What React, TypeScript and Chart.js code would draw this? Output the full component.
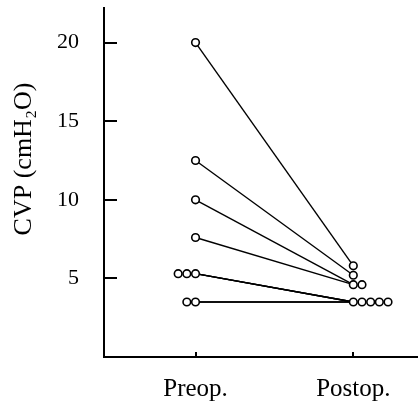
import React, { useEffect, useRef } from 'react';
import { Chart, registerables } from 'chart.js';

Chart.register(...registerables);

const categories = ['Preop.', 'Postop.'];
const preValues = [20, 12.5, 10, 7.6, 5.3, 5.3, 5.3, 3.5, 3.5];
const postValues = [5.8, 5.2, 4.6, 4.6, 3.5, 3.5, 3.5, 3.5, 3.5];
const yTicks = [5, 10, 15, 20];
const yTitle = 'CVP (cmH\u2082O)';

const FONT = "'Liberation Serif', 'DejaVu Serif', serif";
const STEP = 0.055;

function spread(values: number[], dir: number): number[] {
  const seen = new Map<number, number>();
  return values.map((v) => {
    const n = seen.get(v) || 0;
    seen.set(v, n + 1);
    return n * dir * STEP;
  });
}

const decorPlugin = {
  id: 'decor',
  afterDraw(chart: any) {
    const ctx = chart.ctx;
    const { left, bottom, top } = chart.chartArea;
    const ys = chart.scales.y;
    const xs = chart.scales.x;
    ctx.save();
    ctx.strokeStyle = '#000';
    ctx.lineWidth = 2;
    yTicks.forEach((v) => {
      const py = Math.round(ys.getPixelForValue(v));
      ctx.beginPath();
      ctx.moveTo(left, py);
      ctx.lineTo(left + 13, py);
      ctx.stroke();
    });
    categories.forEach((_, i) => {
      const px = Math.round(xs.getPixelForValue(i));
      ctx.beginPath();
      ctx.moveTo(px, bottom);
      ctx.lineTo(px, bottom - 5);
      ctx.stroke();
    });
    ctx.fillStyle = '#000';
    ctx.font = `26px ${FONT}`;
    ctx.textAlign = 'center';
    ctx.textBaseline = 'middle';
    ctx.translate(24, top + 151);
    ctx.rotate(-Math.PI / 2);
    ctx.fillText(yTitle, 0, 0);
    ctx.restore();
  },
};

export default function App() {
  const ref = useRef<HTMLCanvasElement>(null);
  useEffect(() => {
    if (!ref.current) return;
    const preOff = spread(preValues, -1);
    const postOff = spread(postValues, 1);
    const lineSets = preValues.map((v, i) => ({
      type: 'line' as const,
      data: [
        { x: 0, y: v },
        { x: 1, y: postValues[i] },
      ],
      borderColor: '#000',
      borderWidth: 1.4,
      pointRadius: 0,
      fill: false,
      order: 2,
    }));
    const pointStyle = {
      type: 'scatter' as const,
      showLine: false,
      pointRadius: 3.8,
      pointBorderWidth: 1.6,
      borderColor: '#000',
      backgroundColor: '#fff',
      pointBackgroundColor: '#fff',
      pointBorderColor: '#000',
      order: 0,
    };
    const chart = new Chart(ref.current, {
      type: 'scatter',
      data: {
        datasets: [
          ...lineSets,
          { ...pointStyle, data: preValues.map((v, i) => ({ x: 0 + preOff[i], y: v })) },
          { ...pointStyle, data: postValues.map((v, i) => ({ x: 1 + postOff[i], y: v })) },
        ] as any,
      },
      options: {
        animation: false,
        responsive: false,
        devicePixelRatio: 1,
        layout: { autoPadding: false, padding: { top: 8, right: 0, left: 0, bottom: 0 } },
        plugins: { legend: { display: false }, tooltip: { enabled: false } },
        scales: {
          x: {
            type: 'linear',
            min: -0.58,
            max: 1.41,
            afterBuildTicks: (s: any) => {
              s.ticks = categories.map((_, i) => ({ value: i }));
            },
            afterFit: (s: any) => {
              s.height = 44;
              s.paddingLeft = 0;
              s.paddingRight = 0;
              s.paddingTop = 0;
              s.paddingBottom = 0;
            },
            grid: { display: false, drawTicks: false },
            border: { display: true, color: '#000', width: 2 },
            ticks: {
              color: '#000',
              font: { family: FONT, size: 25 },
              padding: 17,
              maxRotation: 0,
              autoSkip: false,
              callback: (v: any) => categories[Math.round(Number(v))] ?? '',
            },
          },
          y: {
            type: 'linear',
            min: 0,
            max: 22.2,
            afterBuildTicks: (s: any) => {
              s.ticks = yTicks.map((v) => ({ value: v }));
            },
            afterFit: (s: any) => {
              s.width = 104;
              s.paddingTop = 0;
              s.paddingBottom = 0;
              s.paddingLeft = 0;
              s.paddingRight = 0;
            },
            grid: { display: false, drawTicks: false },
            border: { display: true, color: '#000', width: 2 },
            ticks: {
              color: '#000',
              font: { family: FONT, size: 22 },
              padding: 25,
              autoSkip: false,
            },
          },
        },
      },
      plugins: [decorPlugin],
    });
    return () => chart.destroy();
  }, []);
  return (
    <div style={{ position: 'absolute', left: 0, top: 0, width: 418, height: 401, background: '#fff' }}>
      <canvas ref={ref} width={418} height={401} style={{ width: 418, height: 401, display: 'block' }} />
    </div>
  );
}
